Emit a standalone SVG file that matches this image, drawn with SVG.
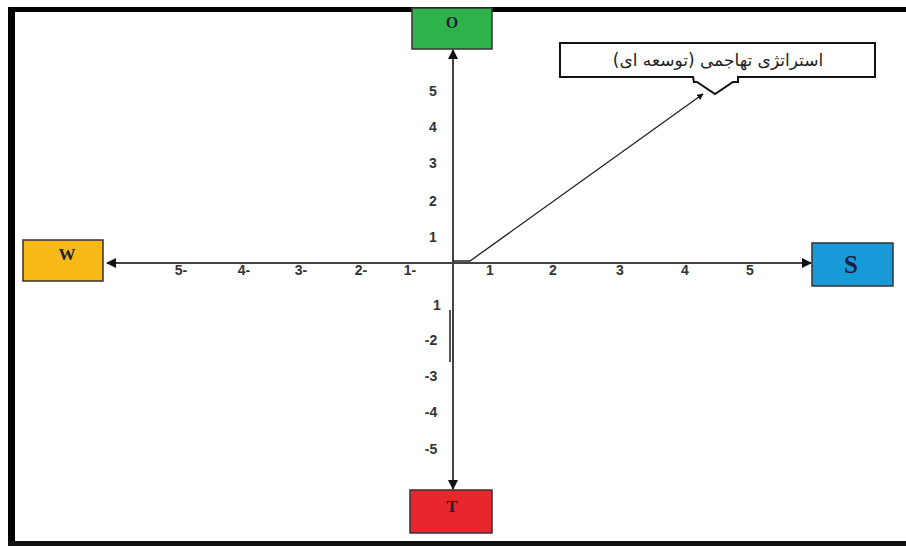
<svg xmlns="http://www.w3.org/2000/svg" width="906" height="546" viewBox="0 0 906 546">
<style>
.box{stroke:#333;stroke-width:1.5}
.lbl{font-family:"Liberation Serif",serif;font-weight:bold;fill:#1a1f3a;text-anchor:middle;dominant-baseline:central}
.tick{font-family:"Liberation Sans",Arial,sans-serif;font-weight:bold;font-size:14px;fill:#333;text-anchor:middle;dominant-baseline:central}
.axis{stroke:#444;stroke-width:2;fill:none}
</style>
<defs>
<marker id="ah" viewBox="0 0 10 10" refX="9" refY="5" markerWidth="5" markerHeight="5" orient="auto" markerUnits="strokeWidth">
<path d="M0,0 L10,5 L0,10 z" fill="#111"/>
</marker>
</defs>
<rect width="906" height="546" fill="#fff"/>
<g id="frame" fill="#000">
<rect x="8" y="7" width="898" height="5"/>
<rect x="8" y="7" width="7" height="539"/>
<rect x="8" y="541" width="898" height="5" fill="#111"/>
</g>
<g id="connectors">
<line class="axis" x1="453" y1="263" x2="453" y2="50" marker-end="url(#ah)"/>
<line class="axis" x1="453" y1="263" x2="453" y2="489" marker-end="url(#ah)"/>
<line class="axis" x1="453" y1="263" x2="107" y2="263" marker-end="url(#ah)"/>
<line class="axis" x1="453" y1="263" x2="811" y2="263" marker-end="url(#ah)"/>
<line x1="450" y1="310" x2="450" y2="362" stroke="#222" stroke-width="1.5"/>
<polyline points="453,261 470,261 703,94" fill="none" stroke="#222" stroke-width="1.3" marker-end="url(#ah)"/>
</g>
<g id="ticks">
<text class="tick" x="490" y="270">1</text>
<text class="tick" x="553" y="270">2</text>
<text class="tick" x="620" y="270">3</text>
<text class="tick" x="685" y="270">4</text>
<text class="tick" x="750" y="270">5</text>
<text class="tick" x="181" y="270">5-</text>
<text class="tick" x="244" y="270">4-</text>
<text class="tick" x="301" y="270">3-</text>
<text class="tick" x="361" y="270">2-</text>
<text class="tick" x="410" y="270">1-</text>
<text class="tick" x="433" y="91">5</text>
<text class="tick" x="433" y="127">4</text>
<text class="tick" x="433" y="163">3</text>
<text class="tick" x="433" y="201">2</text>
<text class="tick" x="433" y="237">1</text>
<text class="tick" x="437" y="305">1</text>
<text class="tick" x="431" y="340">-2</text>
<text class="tick" x="431" y="376">-3</text>
<text class="tick" x="431" y="412">-4</text>
<text class="tick" x="431" y="449">-5</text>
</g>
<g id="node-O">
<rect class="box" x="412" y="8" width="80" height="41" fill="#2db34a"/>
<text class="lbl" x="452" y="22" font-size="16">O</text>
</g>
<g id="node-W">
<rect class="box" x="23" y="240" width="80" height="41" fill="#f6b916"/>
<text class="lbl" x="67" y="254" font-size="17">W</text>
</g>
<g id="node-S">
<rect class="box" x="812" y="243" width="81" height="43" fill="#199ad8"/>
<text class="lbl" x="851" y="264" font-size="25">S</text>
</g>
<g id="node-T">
<rect class="box" x="410" y="490" width="82" height="43" fill="#e8262b"/>
<text class="lbl" x="452" y="506" font-size="17">T</text>
</g>
<g id="callout">
<path d="M560,43 H875 V77 H738 L738,82 L733,82 L715,94 L697,82 L694,82 L693,77 H560 Z" fill="#fff" stroke="#111" stroke-width="2"/>
<text x="718" y="60" font-family="'DejaVu Sans',sans-serif" font-size="17" fill="#222" text-anchor="middle" dominant-baseline="central" direction="rtl">استراتژی تهاجمی (توسعه ای)</text>
</g>
</svg>
